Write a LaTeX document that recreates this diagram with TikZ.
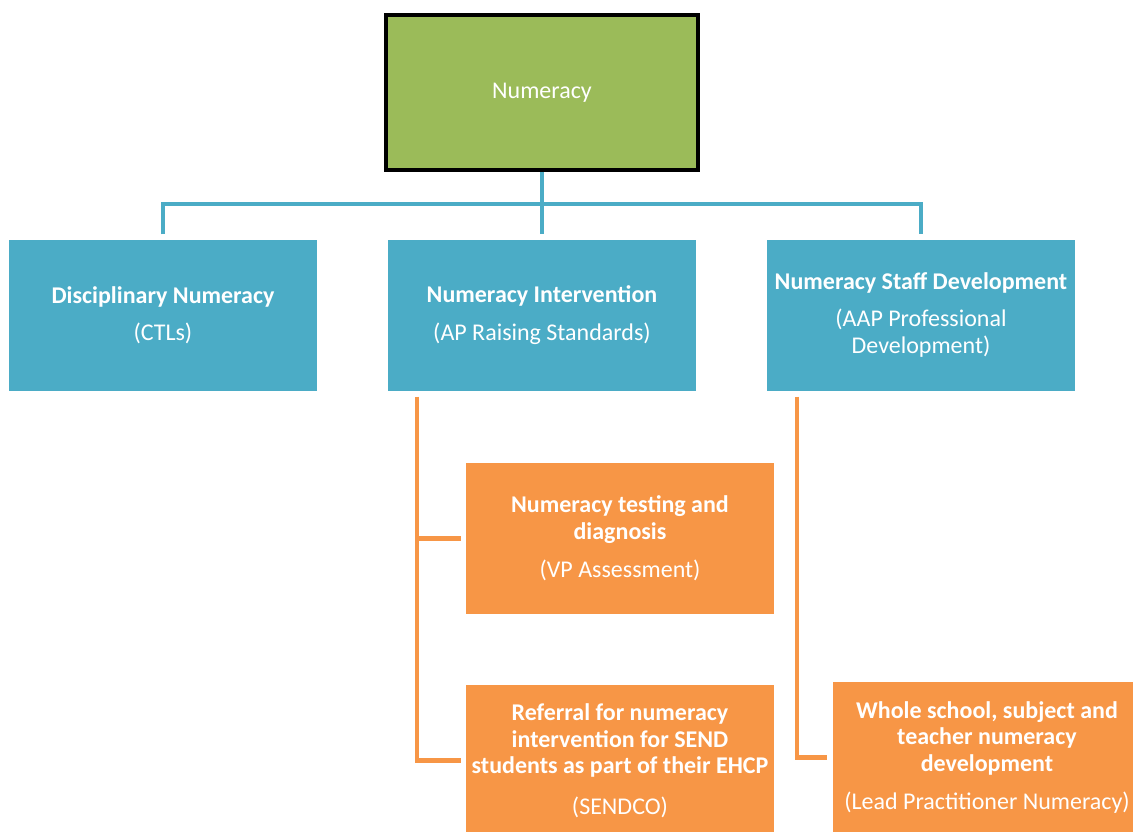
\documentclass[tikz,border=0pt]{standalone}
\usepackage{fontspec}
\setmainfont{Carlito}
\definecolor{rootgreen}{HTML}{9BBB59}
\definecolor{boxteal}{HTML}{4BACC6}
\definecolor{boxorange}{HTML}{F79646}
\begin{document}
\begin{tikzpicture}[x=1pt,y=-1pt,
  base/.style={rectangle, inner sep=0pt, minimum width=308pt, minimum height=151pt,
    align=center, text=white, font=\fontsize{24}{26.5}\selectfont},
  tealbox/.style={base, fill=boxteal},
  orangebox/.style={base, fill=boxorange},
  rootbox/.style={base, fill=rootgreen, draw=black, line width=4pt,
    minimum width=312pt, minimum height=155pt},
  tealline/.style={draw=boxteal, line width=4pt},
  orangeline/.style={draw=boxorange, line width=4.5pt}]
\useasboundingbox (0,0) rectangle (1133,832);

\node[rootbox] (root) at (542,93) {Numeracy};

\node[tealbox] (b1) at (163,315) {\textbf{Disciplinary Numeracy}\\[11pt](CTLs)};
\node[tealbox] (b2) at (542,315) {\textbf{Numeracy Intervention}\\[11pt](AP Raising Standards)};
\node[tealbox] (b3) at (921,315) {\textbf{Numeracy Staff Development}\\[11pt](AAP Professional\\Development)};

\node[orangebox] (o1) at (620,538.5) {\textbf{Numeracy testing and}\\\textbf{diagnosis}\\[12pt](VP Assessment)};
\node[orangebox] (o2) at (620,760.5) {\textbf{Referral for numeracy}\\\textbf{intervention for SEND}\\\textbf{students as part of their EHCP}\\[14pt](SENDCO)};
\node[orangebox] (o3) at (987,757.5) {\textbf{Whole school, subject and}\\\textbf{teacher numeracy}\\\textbf{development}\\[12pt](Lead Practitioner Numeracy)};

\coordinate (bar) at (542,204);
\draw[tealline] ([yshift=5pt]b1.north) |- (bar) -| ([yshift=5pt]b3.north);
\draw[tealline] (root.south) -- ([yshift=5pt]b2.north);

\coordinate (lspine) at ([xshift=29pt,yshift=-6pt]b2.south west);
\draw[orangeline] (lspine) |- ([xshift=-5pt]o2.west);
\draw[orangeline] (lspine |- o1.west) -- ([xshift=-5pt]o1.west);
\coordinate (rspine) at ([xshift=30pt,yshift=-6pt]b3.south west);
\draw[orangeline] (rspine) |- ([xshift=-6pt]o3.west);
\end{tikzpicture}
\end{document}
